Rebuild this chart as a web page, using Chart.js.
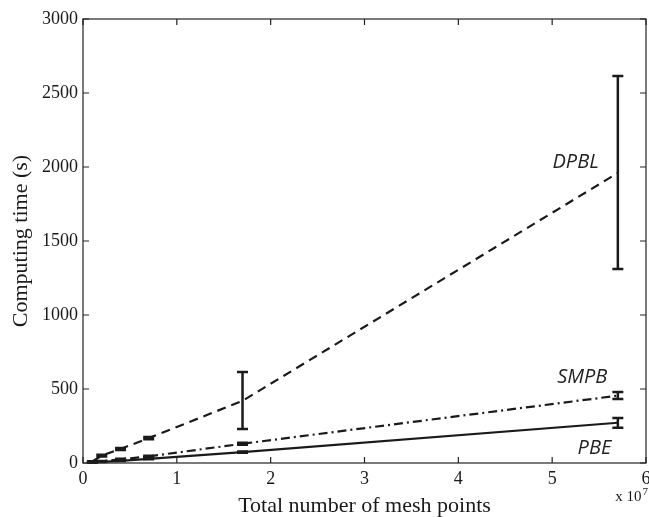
<!DOCTYPE html>
<html>
<head>
<meta charset="utf-8">
<script src="https://cdn.jsdelivr.net/npm/chart.js@4"></script>
<style>
  html, body { margin: 0; padding: 0; background: #fff; }
</style>
</head>
<body>
<canvas id="chart" width="649" height="517"></canvas>
<script>
// mesh points, in units of 10^7
const meshPoints = [0.1, 0.2, 0.4, 0.7, 1.7, 5.7];

// mean computing time (s)
const pbeTime  = [3, 8, 15, 28, 74, 272];
const smpbTime = [5, 12, 25, 45, 130, 455];
const dpblTime = [10, 50, 95, 168, 420, 1960];

// error bar limits (s)
const pbeLow   = [2, 6, 13, 25, 70, 238];
const pbeHigh  = [4, 10, 17, 31, 78, 304];
const smpbLow  = [4, 10, 22, 41, 124, 432];
const smpbHigh = [6, 14, 28, 49, 136, 480];
const dpblLow  = [8, 44, 88, 160, 230, 1310];
const dpblHigh = [12, 56, 102, 176, 615, 2615];

const yTicks = [0, 500, 1000, 1500, 2000, 2500, 3000];
const xTicks = [0, 1, 2, 3, 4, 5, 6];

const ink = '#1a1a1a';
const serif = '"Liberation Serif", "Times New Roman", serif';

const toPoints = (ys) => meshPoints.map((x, i) => ({ x: x, y: ys[i] }));

const series = [
    { label: 'PBE',  data: pbeTime,  low: pbeLow,  high: pbeHigh,  dash: [],           tag: { x: 5.45, y: 100 } },
    { label: 'SMPB', data: smpbTime, low: smpbLow, high: smpbHigh, dash: [9, 4, 2, 4], tag: { x: 5.32, y: 580 } },
    { label: 'DPBL', data: dpblTime, low: dpblLow, high: dpblHigh, dash: [9, 6],       tag: { x: 5.25, y: 2030 } }
];

// error bars, inward ticks, box and labels
const decorations = {
    id: 'decorations',
    afterDatasetsDraw(chart) {
        const { ctx, chartArea: a, scales: { x, y } } = chart;
        ctx.save();

        // error bars
        ctx.strokeStyle = ink;
        ctx.lineWidth = 2.5;
        ctx.setLineDash([]);
        series.forEach(s => {
            meshPoints.forEach((m, i) => {
                const px = x.getPixelForValue(m);
                const lo = y.getPixelForValue(s.low[i]);
                const hi = y.getPixelForValue(s.high[i]);
                ctx.beginPath();
                ctx.moveTo(px, lo); ctx.lineTo(px, hi);
                ctx.moveTo(px - 5.5, lo); ctx.lineTo(px + 5.5, lo);
                ctx.moveTo(px - 5.5, hi); ctx.lineTo(px + 5.5, hi);
                ctx.stroke();
            });
        });

        // box
        ctx.strokeStyle = '#222';
        ctx.lineWidth = 1.2;
        ctx.strokeRect(a.left, a.top, a.right - a.left, a.bottom - a.top);

        // inward ticks on all four sides
        ctx.beginPath();
        xTicks.forEach(v => {
            const px = x.getPixelForValue(v);
            ctx.moveTo(px, a.bottom); ctx.lineTo(px, a.bottom - 6);
            ctx.moveTo(px, a.top); ctx.lineTo(px, a.top + 6);
        });
        yTicks.forEach(v => {
            const py = y.getPixelForValue(v);
            ctx.moveTo(a.left, py); ctx.lineTo(a.left + 6, py);
            ctx.moveTo(a.right, py); ctx.lineTo(a.right - 6, py);
        });
        ctx.stroke();

        // series names
        ctx.fillStyle = '#222';
        ctx.font = 'italic 20px "Open Sans", "Noto Sans", sans-serif';
        ctx.textAlign = 'center';
        ctx.textBaseline = 'middle';
        series.forEach(s => {
            ctx.fillText(s.label, x.getPixelForValue(s.tag.x), y.getPixelForValue(s.tag.y));
        });

        // exponent note
        ctx.fillStyle = ink;
        ctx.textAlign = 'right';
        ctx.textBaseline = 'alphabetic';
        ctx.font = '11px ' + serif;
        ctx.fillText('7', a.right + 2, 495);
        const w7 = ctx.measureText('7').width;
        ctx.font = '15px ' + serif;
        ctx.fillText('x 10', a.right + 1 - w7, 501);

        ctx.restore();
    }
};

new Chart(document.getElementById('chart'), {
    type: 'line',
    data: {
        datasets: series.map(s => ({
            label: s.label,
            data: toPoints(s.data),
            borderColor: ink,
            borderWidth: 2.2,
            borderDash: s.dash,
            pointRadius: 0,
            fill: false,
            tension: 0
        }))
    },
    options: {
        responsive: false,
        animation: false,
        layout: { padding: { top: 19, right: 3, left: 0, bottom: 0 } },
        plugins: { legend: { display: false }, tooltip: { enabled: false } },
        scales: {
            x: {
                type: 'linear',
                min: 0,
                max: 6,
                afterFit: s => { s.height = 54; s.paddingLeft = 0; s.paddingRight = 0; },
                afterBuildTicks: s => { s.ticks = xTicks.map(v => ({ value: v })); },
                grid: { display: false, drawTicks: false },
                border: { display: false },
                ticks: { color: ink, padding: 5, maxRotation: 0, font: { family: serif, size: 18 }, callback: v => String(v) },
                title: {
                    display: true,
                    text: 'Total number of mesh points',
                    color: ink,
                    padding: 0,
                    font: { family: serif, size: 22, lineHeight: 1 }
                }
            },
            y: {
                min: 0,
                max: 3000,
                afterFit: s => { s.width = 83; s.paddingTop = 0; s.paddingBottom = 0; },
                afterBuildTicks: s => { s.ticks = yTicks.map(v => ({ value: v })); },
                grid: { display: false, drawTicks: false },
                border: { display: false },
                ticks: { color: ink, padding: 5, font: { family: serif, size: 18 }, callback: v => String(v) },
                title: {
                    display: true,
                    text: 'Computing time (s)',
                    color: ink,
                    padding: { top: 10, bottom: 0 },
                    font: { family: serif, size: 22, lineHeight: 1 }
                }
            }
        }
    },
    plugins: [decorations]
});
</script>
</body>
</html>
